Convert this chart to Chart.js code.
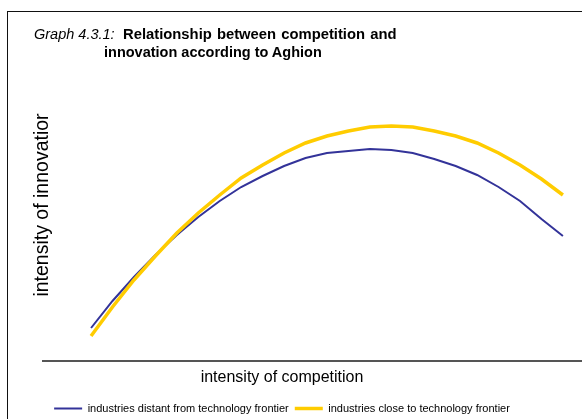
<!DOCTYPE html>
<html>
<head>
<meta charset="utf-8">
<script src="https://cdn.jsdelivr.net/npm/chart.js@4"></script>
<style>
  html, body { margin: 0; padding: 0; background: #fff; overflow: hidden; width: 582px; height: 419px; }
  #frame { position: absolute; left: 7px; top: 11px; width: 700px; height: 500px; border: 1px solid #111; box-sizing: border-box; }
  #wrap { position: absolute; left: -18px; top: 0; width: 600px; height: 424px; }
  .t { position: absolute; font-family: "Liberation Sans", Arial, sans-serif; font-size: 14.5px; line-height: 18px; color: #000; white-space: nowrap; }
  .it { font-style: italic; }
  .b { font-weight: bold; }
</style>
</head>
<body>
<div id="frame"></div>
<div id="wrap"><canvas id="c" width="600" height="424"></canvas></div>
<div class="t it" style="left:34px; top:25px;">Graph 4.3.1:</div>
<div class="t b" style="left:123px; top:25px; font-size:14.8px; word-spacing:1px;">Relationship between competition and</div>
<div class="t b" style="left:104px; top:43px;">innovation according to Aghion</div>
<script>
const competition = [0, 1, 2, 3, 4, 5, 6, 7, 8, 9, 10, 11, 12, 13, 14, 15, 16, 17, 18, 19, 20, 21, 22];
const distantFromFrontier = [33, 60, 84, 106, 126, 144, 160, 174, 185, 195, 203, 208, 210, 212, 211, 208, 202, 195, 186, 174, 160, 142, 125];
const closeToFrontier = [25, 54, 81, 105, 128, 148, 166, 183, 196, 208, 218, 225, 230, 234, 235, 234, 230, 225, 218, 208, 196, 182, 166];
const seriesNames = ['industries distant from technology frontier', 'industries close to technology frontier'];
const xTitle = 'intensity of competition';
const yTitle = 'intensity of innovatior';

const toPoints = (vals) => vals.map((v, i) => ({ x: competition[i], y: v }));

Chart.defaults.font.family = '"Liberation Sans", Arial, sans-serif';
Chart.defaults.color = '#000';

new Chart(document.getElementById('c'), {
  type: 'line',
  data: {
    datasets: [
      {
        label: seriesNames[0],
        data: toPoints(distantFromFrontier),
        borderColor: '#333399',
        backgroundColor: '#333399',
        borderWidth: 2,
        pointRadius: 0,
        tension: 0,
        order: 1
      },
      {
        label: seriesNames[1],
        data: toPoints(closeToFrontier),
        borderColor: '#FFCC00',
        backgroundColor: '#FFCC00',
        borderWidth: 3.5,
        pointRadius: 0,
        tension: 0,
        order: 0
      }
    ]
  },
  options: {
    responsive: false,
    animation: false,
    events: [],
    layout: { padding: { top: 49, left: 0, right: 0, bottom: 0 } },
    scales: {
      x: {
        type: 'linear',
        min: -2.24,
        max: 22.89,
        grid: { display: false, drawTicks: false },
        ticks: { display: false },
        border: { display: true, color: '#555', width: 2 }
      },
      y: {
        min: 0,
        max: 312,
        grid: { display: false, drawTicks: false },
        ticks: { display: false },
        border: { display: false },
        title: {
          display: true,
          text: yTitle,
          font: { size: 19.5, lineHeight: 1 },
          padding: { top: 51.25, bottom: -9.75 },
          color: '#000'
        }
      }
    },
    plugins: {
      title: {
        display: true,
        position: 'bottom',
        text: xTitle,
        weight: 500,
        font: { size: 16, weight: 'normal', lineHeight: 1 },
        padding: { top: 9, bottom: 11 },
        color: '#000'
      },
      legend: {
        position: 'bottom',
        weight: 1000,
        labels: {
          usePointStyle: true,
          pointStyle: 'line',
          pointStyleWidth: 28,
          padding: 6,
          font: { size: 11 },
          color: '#000',
          sort: (a, b) => a.datasetIndex - b.datasetIndex
        }
      },
      tooltip: { enabled: false }
    }
  }
});
</script>
</body>
</html>
